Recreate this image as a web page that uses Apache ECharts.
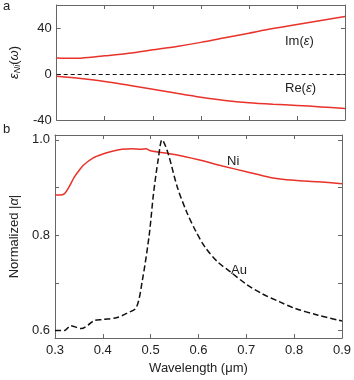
<!DOCTYPE html>
<html>
<head>
<meta charset="utf-8">
<script src="https://cdn.jsdelivr.net/npm/echarts@6/dist/echarts.min.js"></script>
<style>
  html, body { margin: 0; padding: 0; background: #fff; }
  #box { width: 354px; height: 380px; }
</style>
</head>
<body>
<div id="box"></div>
<script>
// panel a: dielectric function of Ni
const imEps = [[0.30, 14], [0.33, 13.6], [0.35, 13.8], [0.40, 15.8], [0.45, 18], [0.50, 21], [0.55, 24],
  [0.60, 27.5], [0.65, 31.5], [0.70, 35.5], [0.75, 39.5], [0.80, 43], [0.85, 46.5], [0.90, 50]];
const reEps = [[0.30, -2], [0.35, -4], [0.40, -6.5], [0.45, -9.8], [0.50, -13.2], [0.55, -16.8], [0.60, -20.2],
  [0.65, -23], [0.70, -25], [0.75, -26.3], [0.80, -27.3], [0.85, -28.6], [0.90, -30]];

// panel b: normalized polarizability
const niAlpha = [[0.30, 0.884], [0.31, 0.884], [0.32, 0.887], [0.33, 0.902], [0.34, 0.921], [0.35, 0.935],
  [0.36, 0.947], [0.38, 0.962], [0.40, 0.970], [0.42, 0.976], [0.44, 0.980], [0.46, 0.981], [0.48, 0.980],
  [0.49, 0.981], [0.50, 0.977], [0.55, 0.969], [0.60, 0.958], [0.65, 0.945], [0.70, 0.933], [0.75, 0.921],
  [0.80, 0.915], [0.85, 0.912], [0.90, 0.908]];
const auAlpha = [[0.30, 0.600], [0.32, 0.600], [0.333, 0.610], [0.355, 0.604], [0.37, 0.612], [0.382, 0.621],
  [0.40, 0.623], [0.43, 0.627], [0.45, 0.636], [0.47, 0.648], [0.483, 0.707], [0.497, 0.800], [0.506, 0.887],
  [0.516, 0.960], [0.524, 1.0], [0.536, 0.973], [0.556, 0.900], [0.576, 0.847], [0.595, 0.807], [0.615, 0.773],
  [0.641, 0.743], [0.668, 0.722], [0.70, 0.697], [0.733, 0.677], [0.77, 0.660], [0.80, 0.647], [0.85, 0.632],
  [0.90, 0.620]];

const topTicks = [-40, 0, 40];
const botTicks = [0.6, 0.7, 0.8, 0.9, 1.0];
const botLabels = [0.6, 0.8, 1.0];

const font = 'Liberation Sans, Arial, sans-serif';
const frame = '#666';
const red = '#e8322a';

function xAx(grid, pos, labels) {
  return {
    type: 'value', gridIndex: grid, position: pos, min: 0.3, max: 0.9, interval: 0.1,
    axisLine: { show: true, onZero: false, lineStyle: { color: frame, width: 1 } },
    axisTick: { show: true, inside: true, length: 4, lineStyle: { color: frame } },
    axisLabel: { show: labels, color: '#222', fontSize: 13, fontFamily: font, margin: 6,
      formatter: v => v.toFixed(1) },
    splitLine: { show: false }
  };
}

function yAx(grid, pos, min, max, ticks, labels, fmt) {
  return {
    type: 'value', gridIndex: grid, position: pos, min: min, max: max,
    axisLine: { show: true, onZero: false, lineStyle: { color: frame, width: 1 } },
    axisTick: { show: true, inside: true, length: 4, customValues: ticks, lineStyle: { color: frame } },
    axisLabel: { show: pos === 'left', customValues: labels, color: '#222', fontSize: 13, fontFamily: font,
      margin: 5, formatter: fmt },
    splitLine: { show: false }
  };
}

const graph = echarts.init(document.getElementById('box'));
graph.setOption({
  animation: false,
  grid: [
    { left: 40, right: 9, top: 5, height: 115 },
    { left: 40, right: 9, top: 135, height: 213 }
  ],
  xAxis: [
    xAx(0, 'bottom', false), xAx(0, 'top', false),
    Object.assign(xAx(1, 'bottom', true), {
      name: 'Wavelength (μm)', nameLocation: 'middle', nameGap: 20,
      nameTextStyle: { color: '#222', fontSize: 13, fontFamily: font }
    }),
    xAx(1, 'top', false)
  ],
  yAxis: [
    Object.assign(yAx(0, 'left', -40, 60, topTicks, topTicks, v => String(v)), {
      name: '{e|ε}{s|Ni}{n|(}{e|ω}{n|)}', nameLocation: 'middle', nameGap: 27, nameRotate: 90,
      nameTextStyle: { color: '#222', fontSize: 13, fontFamily: font,
        rich: {
          e: { fontStyle: 'italic', fontSize: 13, fontFamily: font, color: '#222' },
          s: { fontStyle: 'italic', fontSize: 9, fontFamily: font, color: '#222', verticalAlign: 'bottom', padding: [6, 0, 0, 0] },
          n: { fontSize: 13, fontFamily: font, color: '#222' }
        } }
    }),
    yAx(0, 'right', -40, 60, topTicks, [], null),
    Object.assign(yAx(1, 'left', 0.584, 1.01, botTicks, botLabels, v => v.toFixed(1)), {
      name: 'Normalized |{e|α}|', nameLocation: 'middle', nameGap: 28, nameRotate: 90,
      nameTextStyle: { color: '#222', fontSize: 13, fontFamily: font,
        rich: { e: { fontStyle: 'italic', fontSize: 13, fontFamily: font, color: '#222' } } }
    }),
    yAx(1, 'right', 0.584, 1.01, botTicks, [], null)
  ],
  series: [
    { type: 'line', name: 'Im', xAxisIndex: 0, yAxisIndex: 0, data: imEps, smooth: 0.3, symbol: 'none',
      lineStyle: { color: red, width: 1.5 },
      markLine: { silent: true, symbol: 'none', label: { show: false },
        lineStyle: { color: '#111', type: [4, 3], width: 1 }, data: [{ yAxis: 0 }] } },
    { type: 'line', name: 'Re', xAxisIndex: 0, yAxisIndex: 0, data: reEps, smooth: 0.3, symbol: 'none',
      lineStyle: { color: red, width: 1.5 } },
    { type: 'line', name: 'Ni', xAxisIndex: 2, yAxisIndex: 2, data: niAlpha, smooth: 0.3, symbol: 'none',
      lineStyle: { color: red, width: 1.5 } },
    { type: 'line', name: 'Au', xAxisIndex: 2, yAxisIndex: 2, data: auAlpha, smooth: 0.3, symbol: 'none',
      lineStyle: { color: '#111', width: 1.5, type: [6, 3] } }
  ],
  graphic: [
    { type: 'text', left: 3, top: 0, style: { text: 'a', fontSize: 13, fontFamily: font, fill: '#222' } },
    { type: 'text', left: 3, top: 123, style: { text: 'b', fontSize: 13, fontFamily: font, fill: '#222' } },
    { type: 'text', left: 285, top: 35, style: { text: '{n|Im(}{e|ε}{n|)}', rich: {
      n: { fontSize: 13, fontFamily: font, fill: '#222' }, e: { fontSize: 13, fontFamily: font, fontStyle: 'italic', fill: '#222' } } } },
    { type: 'text', left: 285, top: 82, style: { text: '{n|Re(}{e|ε}{n|)}', rich: {
      n: { fontSize: 13, fontFamily: font, fill: '#222' }, e: { fontSize: 13, fontFamily: font, fontStyle: 'italic', fill: '#222' } } } },
    { type: 'text', left: 227, top: 155, style: { text: 'Ni', fontSize: 13, fontFamily: font, fill: '#222' } },
    { type: 'text', left: 231, top: 264, style: { text: 'Au', fontSize: 13, fontFamily: font, fill: '#222' } }
  ]
});
</script>
</body>
</html>
